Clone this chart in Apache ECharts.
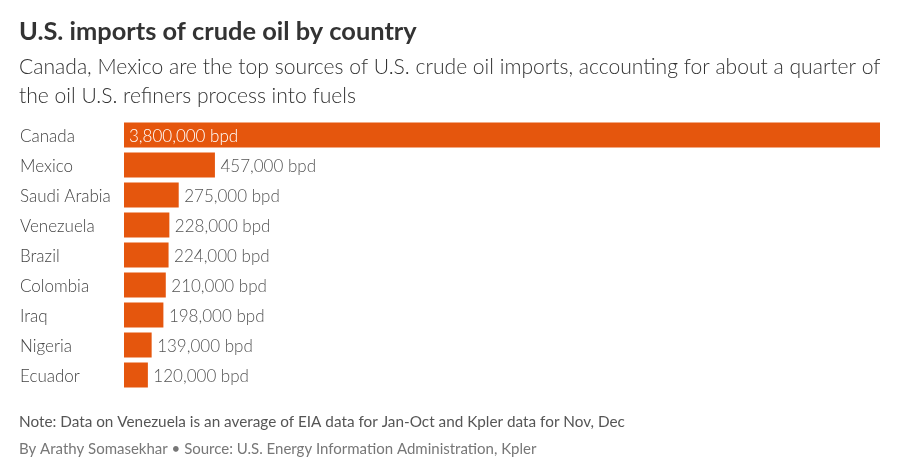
<!DOCTYPE html>
<html lang="en">
<head>
<meta charset="UTF-8">
<title>U.S. imports of crude oil by country</title>
<script src="https://cdn.jsdelivr.net/npm/echarts@6/dist/echarts.min.js"></script>
<style>
html, body { margin: 0; padding: 0; background: #fff; }
#chart { width: 900px; height: 471px; }
</style>
</head>
<body>
<div id="chart"></div>
<script>
var countries = ['Canada', 'Mexico', 'Saudi Arabia', 'Venezuela', 'Brazil', 'Colombia', 'Iraq', 'Nigeria', 'Ecuador'];
var bpd = [3800000, 457000, 275000, 228000, 224000, 210000, 198000, 139000, 120000];

var font = 'Lato';
var mychart = echarts.init(document.getElementById('chart'), null, {renderer: 'canvas'});

function label(params) {
    return params.value.toLocaleString('en-US') + ' bpd';
}

var option = {
    animation: false,
    textStyle: {fontFamily: font},
    graphic: [
        {type: 'text', left: 19, top: 19, style: {text: 'U.S. imports of crude oil by country', font: '700 25.4px ' + font, fill: '#333333'}},
        {type: 'text', left: 19, top: 57, style: {text: 'Canada, Mexico are the top sources of U.S. crude oil imports, accounting for about a quarter of', font: '300 21.1px ' + font, fill: '#333333'}},
        {type: 'text', left: 19, top: 86, style: {text: 'the oil U.S. refiners process into fuels', font: '300 21.1px ' + font, fill: '#333333'}},
        {type: 'text', left: 19, top: 415, style: {text: 'Note: Data on Venezuela is an average of EIA data for Jan-Oct and Kpler data for Nov, Dec', font: '400 15.3px ' + font, fill: '#555555'}},
        {type: 'text', left: 19, top: 442, style: {text: 'By Arathy Somasekhar \u2022 Source: U.S. Energy Information Administration, Kpler', font: '400 15px ' + font, fill: '#777777'}}
    ],
    grid: {left: 124, right: 20, top: 120, height: 270},
    xAxis: {type: 'value', min: 0, max: 3800000, show: false},
    yAxis: {
        type: 'category',
        inverse: true,
        data: countries,
        axisLine: {show: false},
        axisTick: {show: false},
        axisLabel: {
            align: 'left',
            margin: 104,
            formatter: function (name) {
                return '{c|' + name + '}';
            },
            rich: {
                c: {
                    fontSize: 17,
                    fontFamily: font,
                    fontWeight: 300,
                    color: '#444444',
                    padding: [3, 0, 0, 0]
                }
            }
        }
    },
    series: [{
        type: 'bar',
        data: bpd.map(function (v, i) {
            return {
                value: v,
                label: i === 0
                    ? {position: 'insideLeft', distance: 5, color: '#ffffff'}
                    : {position: 'right', distance: 5.5, color: '#555555'}
            };
        }),
        barWidth: 25,
        itemStyle: {color: '#e5560d'},
        label: {show: true, formatter: label, fontSize: 17, fontFamily: font, fontWeight: 300, offset: [0, 1.5]}
    }]
};
mychart.setOption(option);
</script>
</body>
</html>
